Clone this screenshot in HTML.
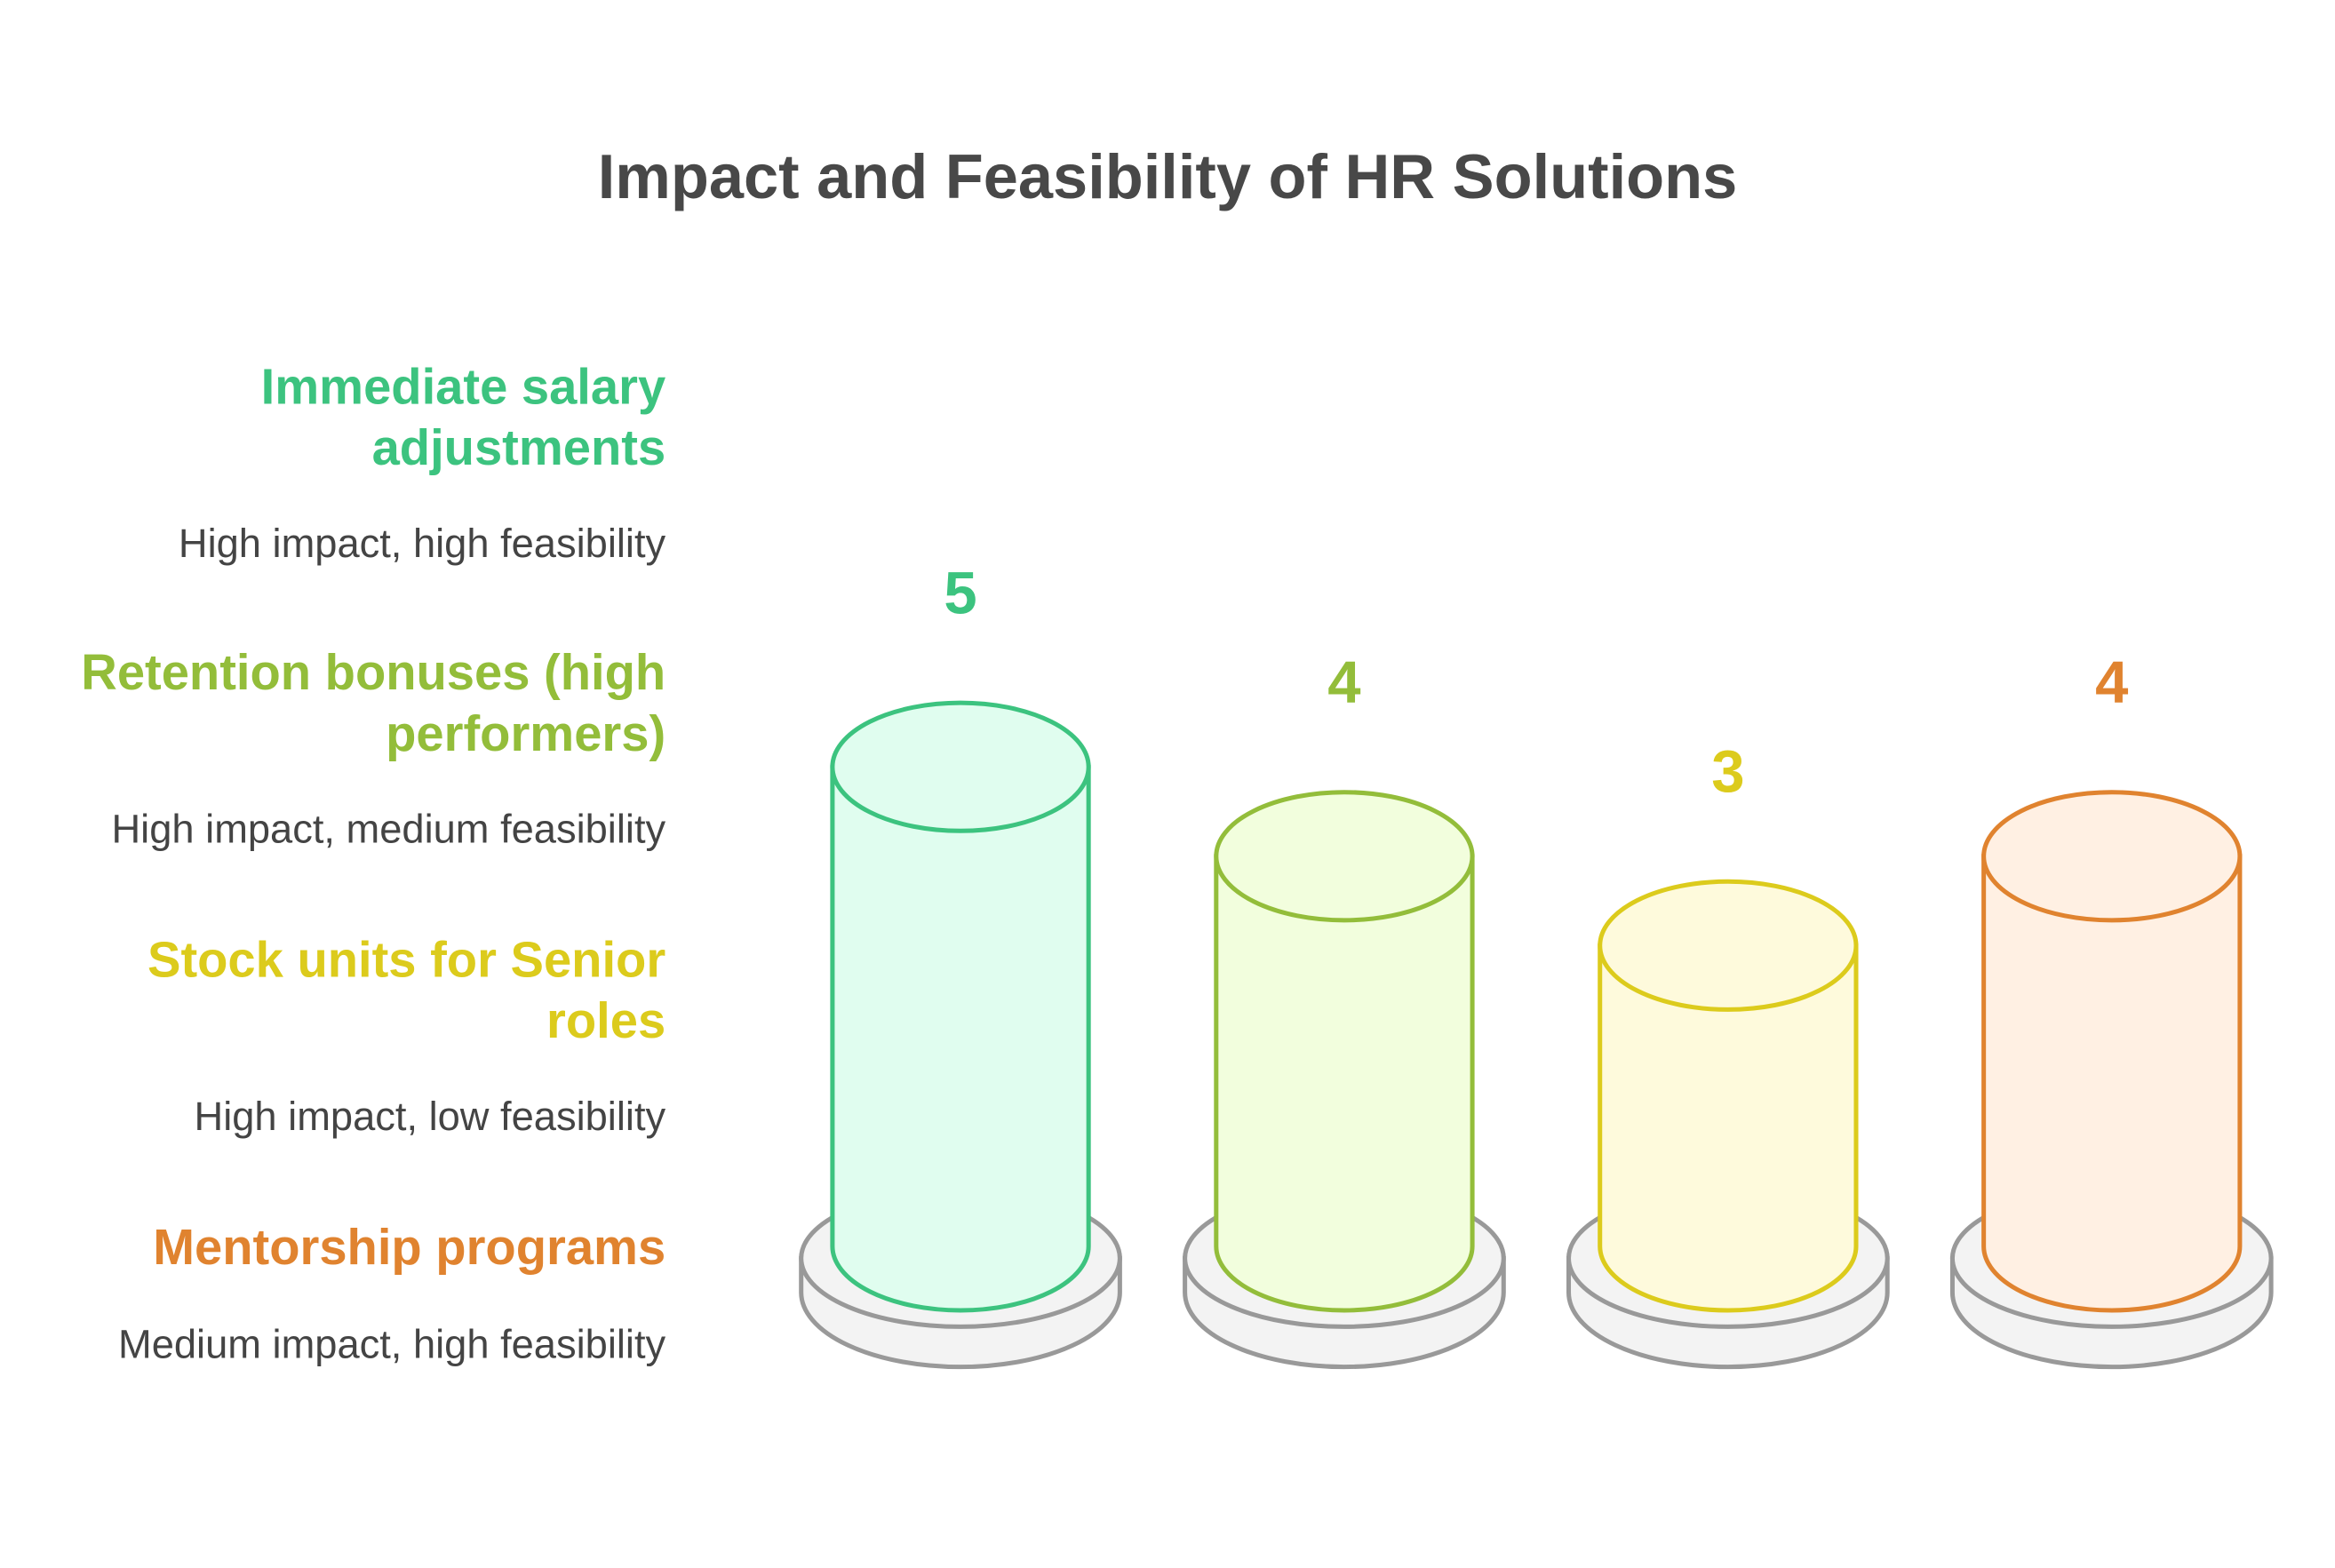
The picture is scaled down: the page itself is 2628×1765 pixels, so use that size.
<!DOCTYPE html>
<html><head><meta charset="utf-8"><style>
html,body{margin:0;padding:0;background:#fff}
svg{display:block}
text{font-family:"Liberation Sans",Arial,sans-serif}
</style></head><body>
<svg id="chart" width="2628" height="1765" viewBox="0 0 1568 1053" xmlns="http://www.w3.org/2000/svg">
<rect width="1568" height="1053" fill="#fff"/>
<text x="784" y="133" text-anchor="middle" font-size="42" font-weight="bold" fill="#484848">Impact and Feasibility of HR Solutions</text>
<g id="labels"></g>
<g id="bars"></g>
</svg>
<script>
const categories = ["Immediate salary adjustments","Retention bonuses (high performers)","Stock units for Senior roles","Mentorship programs"];
const titleLines = [["Immediate salary","adjustments"],["Retention bonuses (high","performers)"],["Stock units for Senior","roles"],["Mentorship programs"]];
const descriptions = ["High impact, high feasibility","High impact, medium feasibility","High impact, low feasibility","Medium impact, high feasibility"];
const values = [5,4,3,4];
const strokes = ["#3cc37f","#93bd3a","#dccb1c","#e0832f"];
const fills = ["#e0fdef","#f2fedd","#fefadc","#fff0e3"];

const NS="http://www.w3.org/2000/svg";
function mk(tag,attrs,parent){const e=document.createElementNS(NS,tag);for(const k in attrs)e.setAttribute(k,attrs[k]);parent.appendChild(e);return e;}
const xPos=i=>645+i*257.7;
const baseCy=837;
const yScale=v=>baseCy-(60*v+22);
const labels=document.getElementById('labels');
const bars=document.getElementById('bars');
const blockTop=[271,463,656,849];
categories.forEach((c,i)=>{
  const t=mk('text',{x:447,y:blockTop[i],'text-anchor':'end','font-size':33.5,'font-weight':'bold',fill:strokes[i]},labels);
  
  
  titleLines[i].forEach((ln,j)=>{const ts=mk('tspan',{x:447,dy:j?41:0},t);ts.textContent=ln;});
  const dy=blockTop[i]+(titleLines[i].length===2?103:63);
  const d=mk('text',{x:447,y:dy,'text-anchor':'end','font-size':27,fill:'#444'},labels);
  
  
  d.textContent=descriptions[i];

  const cx=xPos(i), rx=86, ry=43;
  const g=mk('g',{},bars);
  
  
  const pr=107, pry=43;
  mk('path',{d:`M${cx-pr},845 L${cx-pr},868 A${pr},${pry+7} 0 0 0 ${cx+pr},868 L${cx+pr},845 Z`,fill:'#f3f3f3',stroke:'#999','stroke-width':3},g);
  mk('ellipse',{cx:cx,cy:845,rx:pr,ry:pry+3,fill:'#f3f3f3',stroke:'#999','stroke-width':3},g);
  const top=yScale(values[i]);
  mk('path',{d:`M${cx-rx},${top} L${cx-rx},${baseCy} A${rx},${ry} 0 0 0 ${cx+rx},${baseCy} L${cx+rx},${top} Z`,fill:fills[i],stroke:strokes[i],'stroke-width':3},g);
  mk('ellipse',{cx:cx,cy:top,rx:rx,ry:ry,fill:fills[i],stroke:strokes[i],'stroke-width':3},g);
  const v=mk('text',{x:cx,y:top-103,'text-anchor':'middle','font-size':40,'font-weight':'bold',fill:strokes[i]},g);
  
  
  v.textContent=values[i];
});
</script>
</body></html>
